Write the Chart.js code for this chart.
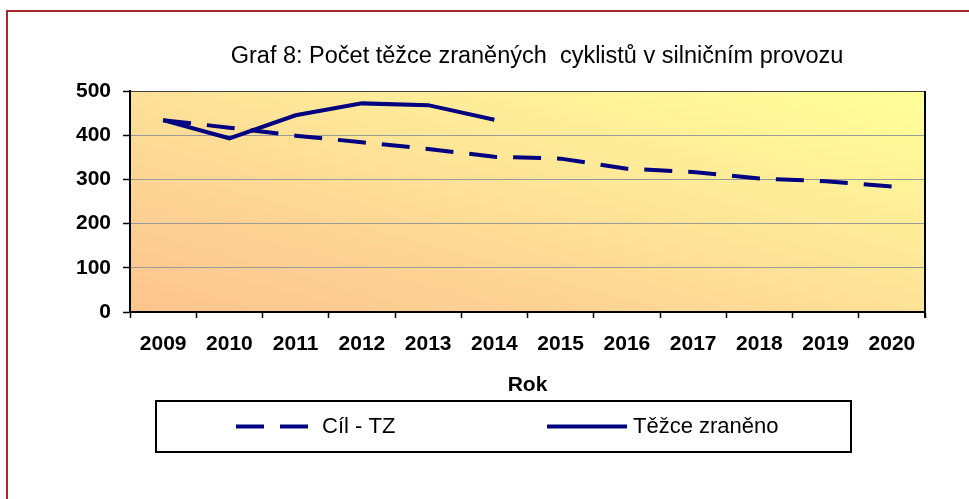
<!DOCTYPE html>
<html>
<head>
<meta charset="utf-8">
<script src="https://cdn.jsdelivr.net/npm/chart.js@4.4.1/dist/chart.umd.min.js"></script>
<style>
html,body{margin:0;padding:0;background:#ffffff;}
canvas{display:block;}
</style>
</head>
<body>
<canvas id="c" width="969" height="499"></canvas>
<script>
// ---- data ----
const years = ['2009','2010','2011','2012','2013','2014','2015','2016','2017','2018','2019','2020'];
const targetTZ = [434, 417, 399, 384, 369, 351, 347, 324, 317, 302, 296, 284];
const seriousInjured = [434, 393, 445, 472, 468, 435, null, null, null, null, null, null];
const yTicks = [0, 100, 200, 300, 400, 500];
const seriesLabels = ['Cíl - TZ', 'Těžce zraněno'];
const chartTitle = 'Graf 8: Počet těžce zraněných  cyklistů v silničním provozu';
const xAxisTitle = 'Rok';

const FONT = 'Arial, "Liberation Sans", sans-serif';
const NAVY = '#000080';

const backgroundPlugin = {
  id: 'bg',
  beforeDraw(chart) {
    const ctx = chart.ctx;
    const a = chart.chartArea;
    ctx.save();
    ctx.fillStyle = '#ffffff';
    ctx.fillRect(0, 0, chart.width, chart.height);
    // outer dark red frame
    ctx.strokeStyle = '#A52A2A';
    ctx.lineWidth = 2;
    ctx.strokeRect(7, 11, 1200, 1200);
    // plot area gradient: corner gradient (bottom-left -> top-right, normalised)
    const W = a.right - a.left, H = a.bottom - a.top;
    const k = 2 / (1 / (W * W) + 1 / (H * H));
    const g = ctx.createLinearGradient(a.left, a.bottom, a.left + k / W, a.bottom - k / H);
    g.addColorStop(0, '#FCC48E');
    g.addColorStop(0.3, '#FDD494');
    g.addColorStop(0.6, '#FEE898');
    g.addColorStop(1, '#FFFF99');
    ctx.fillStyle = g;
    ctx.fillRect(a.left, a.top, W, H);
    // title
    ctx.fillStyle = '#000000';
    ctx.font = '23.5px ' + FONT;
    ctx.textAlign = 'center';
    ctx.textBaseline = 'middle';
    ctx.fillText(chartTitle, 537, 57);
    ctx.restore();
  },
  afterDraw(chart) {
    const ctx = chart.ctx;
    const a = chart.chartArea;
    ctx.save();
    // right border of plot
    ctx.strokeStyle = '#000000';
    ctx.lineWidth = 2;
    ctx.beginPath();
    ctx.moveTo(a.right, a.top);
    ctx.lineTo(a.right, a.bottom + 6);
    ctx.stroke();
    // legend box
    const bx = 156, by = 401, bw = 695, bh = 51;
    ctx.lineWidth = 2;
    ctx.strokeStyle = '#000000';
    ctx.strokeRect(bx, by, bw, bh);
    const items = [
      {x0: 236, x1: 309, tx: 322},
      {x0: 547, x1: 627, tx: 633}
    ];
    const cy = by + bh / 2;
    chart.data.datasets.forEach((ds, i) => {
      const it = items[i];
      ctx.strokeStyle = ds.borderColor;
      ctx.lineWidth = ds.borderWidth;
      ctx.lineCap = 'butt';
      ctx.setLineDash(ds.borderDash || []);
      ctx.beginPath();
      ctx.moveTo(it.x0, cy);
      ctx.lineTo(it.x1, cy);
      ctx.stroke();
      ctx.setLineDash([]);
      ctx.fillStyle = '#000000';
      ctx.font = '22px ' + FONT;
      ctx.textAlign = 'left';
      ctx.textBaseline = 'middle';
      ctx.fillText(ds.label, it.tx, cy);
    });
    ctx.restore();
  }
};

new Chart(document.getElementById('c'), {
  type: 'line',
  data: {
    labels: years,
    datasets: [
      {
        label: seriesLabels[0],
        data: targetTZ,
        borderColor: NAVY,
        borderWidth: 4,
        borderDash: [28, 16],
        borderCapStyle: 'butt',
        pointRadius: 0,
        tension: 0,
        fill: false
      },
      {
        label: seriesLabels[1],
        data: seriousInjured,
        borderColor: NAVY,
        borderWidth: 4,
        pointRadius: 0,
        tension: 0,
        fill: false,
        spanGaps: false
      }
    ]
  },
  options: {
    responsive: false,
    animation: false,
    devicePixelRatio: 1,
    layout: { padding: { top: 91, right: 44, bottom: 0, left: 0 } },
    plugins: {
      legend: { display: false },
      title: { display: false },
      tooltip: { enabled: false }
    },
    scales: {
      x: {
        type: 'category',
        offset: true,
        grid: {
          display: true,
          drawOnChartArea: false,
          offset: true,
          tickLength: 6,
          tickColor: '#000000',
          tickWidth: 1.5
        },
        border: { display: true, color: '#000000', width: 2 },
        ticks: {
          color: '#000000',
          font: { family: FONT, size: 21, weight: 'bold' },
          padding: 14,
          maxRotation: 0,
          autoSkip: false
        },
        title: {
          display: true,
          text: xAxisTitle,
          color: '#000000',
          font: { family: FONT, size: 21, weight: 'bold' },
          padding: { top: 0, bottom: 101 }
        },
        afterFit(scale) { scale.height = 187; }
      },
      y: {
        min: yTicks[0],
        max: yTicks[yTicks.length - 1],
        afterBuildTicks(scale) { scale.ticks = yTicks.map(v => ({ value: v })); },
        grid: {
          drawOnChartArea: true,
          color: (c) => c.tick && c.tick.value === 0 ? 'rgba(0,0,0,0)' : (c.tick && c.tick.value === 500 ? '#404040' : '#9a9a9a'),
          lineWidth: 1,
          borderDash: [1, 1],
          tickLength: 7,
          tickColor: '#000000',
          tickWidth: 1.5,
          tickBorderDash: []
        },
        border: { display: true, color: '#000000', width: 2 },
        ticks: {
          color: '#000000',
          font: { family: FONT, size: 21, weight: 'bold' },
          padding: 12
        },
        afterFit(scale) { scale.width = 130; }
      }
    }
  },
  plugins: [backgroundPlugin]
});
</script>
</body>
</html>
